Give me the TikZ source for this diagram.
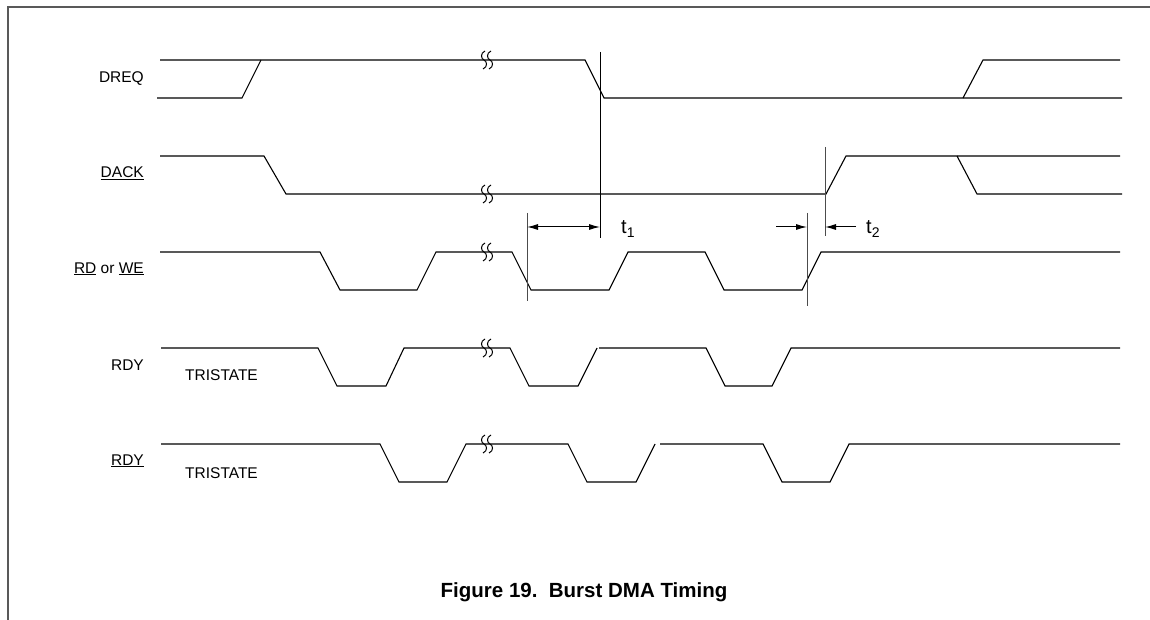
\documentclass[tikz,border=0pt]{standalone}
\usepackage{fontspec}
\setmainfont{Liberation Sans}
\usetikzlibrary{arrows.meta,positioning}
% break mark on a waveform at (x,y)
\newcommand{\wavebreak}[2]{%
  \draw[brk] ({#1+1},{#2-9}) .. controls ({#1-4},{#2-7}) and ({#1-3},{#2-1}) .. (#1,#2) .. controls ({#1+3},{#2+1}) and ({#1+4},{#2+7}) .. ({#1-1},{#2+9});
}

\begin{document}
\begin{tikzpicture}[
  x=1pt, y=-1pt,
  wave/.style={line width=1.1pt, black},
  brk/.style={line width=1pt, black},
  guide/.style={line width=1pt, black!70},
  lbl/.style={anchor=base east, inner sep=0pt, font=\fontsize{15.5}{18}\selectfont},
  tri/.style={anchor=base west, inner sep=0pt, font=\fontsize{15.5}{18}\selectfont},
  tlab/.style={anchor=base west, inner sep=0pt, font=\fontsize{20}{22}\selectfont},
  dim/.style={line width=1pt, -{Latex[length=11pt,width=6pt]}}
]
\useasboundingbox (0,0) rectangle (1150,620);
\draw[line width=1.5pt, black!65] (8,620) -- (8,7) -- (1150,7);

% signal names
\node[lbl] (dreq) at (144,83) {DREQ};
\node[lbl] (dack) at (144,178) {\underline{DACK}};
\node[lbl] (rdwe) at (144,273) {\underline{RD} or \underline{WE}};
\node[lbl] (rdy) at (144,370) {RDY};
\node[lbl] (rdyn) at (144,465) {\underline{RDY}};
\node[tri] (tri1) at (185,380) {TRISTATE};
\node[tri] (tri2) at (185,478) {TRISTATE};

% DREQ
\draw[wave] (160,60) -- (585,60) -- (604,98) -- (1122,98);
\draw[wave] (157,98) -- (242,98) -- (261,60);
\draw[wave] (963,98) -- (983,60) -- (1120,60);
% DACK
\draw[wave] (160,156) -- (264,156) -- (286,194) -- (826,194) -- (846,156) -- (1120,156);
\draw[wave] (957,156) -- (977,194) -- (1122,194);
% RD or WE
\draw[wave] (160,252) -- (320,252) -- (340,290) -- (417,290) -- (436,252) -- (512,252) -- (531,290) -- (609,290) -- (628,252) -- (705,252) -- (724,290) -- (802,290) -- (821,252) -- (1120,252);
% RDY
\draw[wave] (161,348) -- (318,348) -- (337,386) -- (386,386) -- (404,348) -- (510,348) -- (529,386) -- (578,386) -- (597,348);
\draw[wave] (599,348) -- (706,348) -- (725,386) -- (772,386) -- (791,348) -- (1120,348);
% RDY (inverted)
\draw[wave] (161,444) -- (380,444) -- (399,482) -- (447,482) -- (466,444) -- (568,444) -- (587,482) -- (636,482) -- (655,444);
\draw[wave] (660,444) -- (763,444) -- (782,482) -- (830,482) -- (849,444) -- (1120,444);

% breaks
\foreach \y in {60,194,252,348,444} {
  \wavebreak{484}{\y}
  \wavebreak{490}{\y}
}

% timing markers
\coordinate (t1a) at (527,227);
\coordinate (t1b) at (600,227);
\coordinate (t2a) at (807,227);
\coordinate (t2b) at (825,227);
\coordinate (t2l) at (776,227);
\coordinate (t2r) at (856,227);
\draw[guide] (527,213) -- (527,301);
\draw[line width=1pt] (600,52) -- (600,238);
\draw[guide] (807,213) -- (807,306);
\draw[guide] (825,147) -- (825,236);
\draw[dim, {Latex[length=11pt,width=6pt]}-{Latex[length=11pt,width=6pt]}] (t1a) -- (t1b);
\draw[dim] (t2l) -- (t2a);
\draw[dim] (t2r) -- (t2b);
\node[tlab] (t1) at (621,234) {t\textsubscript{1}};
\node[tlab] (t2) at (866,234) {t\textsubscript{2}};

\node[anchor=base, inner sep=0pt, font=\bfseries\fontsize{20.5}{24}\selectfont] (title) at (584,597) {Figure 19.\ \ Burst DMA Timing};
\end{tikzpicture}
\end{document}
